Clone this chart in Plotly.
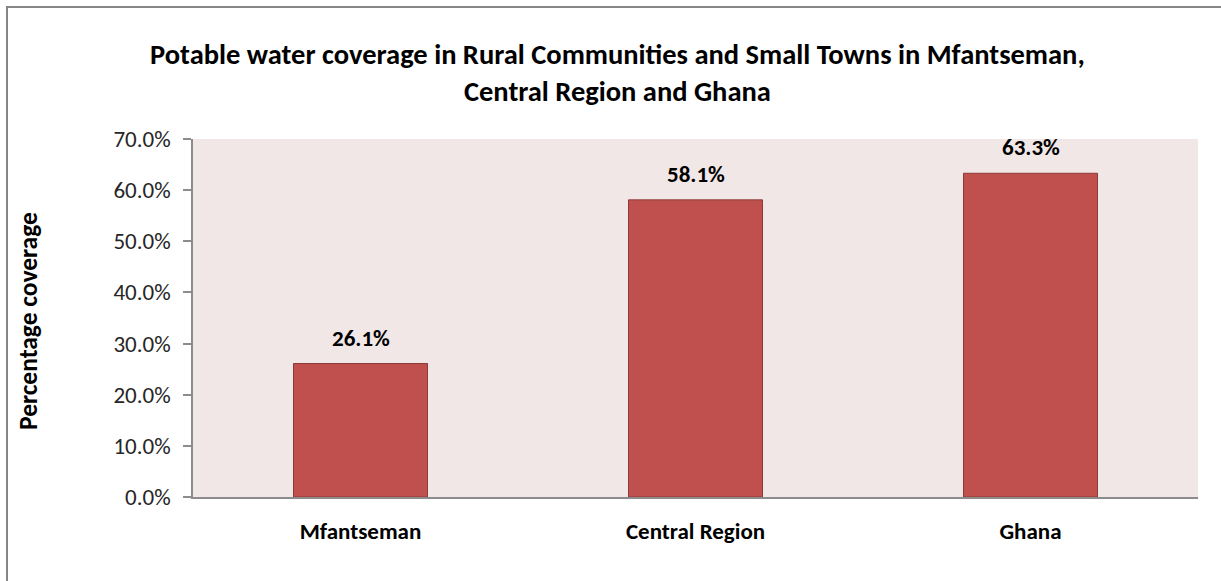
import plotly.graph_objects as go

categories = ["Mfantseman", "Central Region", "Ghana"]
coverage = [0.261, 0.581, 0.633]
tick_values = [0.0, 0.1, 0.2, 0.3, 0.4, 0.5, 0.6, 0.7]
tick_labels = ["0.0%", "10.0%", "20.0%", "30.0%", "40.0%", "50.0%", "60.0%", "70.0%"]
title_text = "Potable water coverage in Rural Communities and Small Towns in Mfantseman,<br>Central Region and Ghana"
y_title = "Percentage coverage"

FONT = "Carlito, Lato, 'Open Sans', sans-serif"
W, H = 1221, 581
L, R, T, B = 193, 23, 139, 84
pw, ph = W - L - R, H - T - B

def px_x(p):
    return (p - L) / pw

def px_y(p):
    return (H - B - p) / ph

fig = go.Figure()
fig.add_trace(go.Bar(
    x=categories, y=coverage, width=0.4,
    marker=dict(color="#C0504D", line=dict(color="#8C3A38", width=1)),
    hoverinfo="skip",
))

for c, v in zip(categories, coverage):
    fig.add_annotation(
        x=c, y=v, xref="x", yref="y", text=f"<b>{v*100:.1f}%</b>",
        showarrow=False, yanchor="bottom", yshift=10,
        font=dict(family=FONT, size=23, color="#000000"),
    )

fig.add_annotation(
    x=px_x(617), y=px_y(73), xref="paper", yref="paper",
    text=f"<b>{title_text}</b>", showarrow=False,
    xanchor="center", yanchor="middle",
    font=dict(family=FONT, size=28.5, color="#000000"),
)

fig.add_annotation(
    x=px_x(28), y=px_y(321), xref="paper", yref="paper",
    text=f"<b>{y_title}</b>", showarrow=False, textangle=-90,
    xanchor="center", yanchor="middle",
    font=dict(family=FONT, size=25.5, color="#000000"),
)

fig.add_shape(
    type="rect", xref="paper", yref="paper",
    x0=px_x(7), y0=px_y(640), x1=px_x(1260), y1=px_y(7),
    line=dict(color="#868686", width=2), fillcolor="rgba(0,0,0,0)", layer="below",
)

fig.update_layout(
    width=W, height=H,
    margin=dict(l=L, r=R, t=T, b=B, autoexpand=False),
    paper_bgcolor="#FFFFFF",
    plot_bgcolor="#F2E7E7",
    showlegend=False,
    bargap=0.6,
    xaxis=dict(
        showgrid=False, showline=True, linecolor="#8C8C8C", linewidth=1.5,
        ticks="", tickfont=dict(family=FONT, size=23, color="#000000"),
        ticklabelstandoff=13,
        tickvals=categories, ticktext=[f"<b>{c}</b>" for c in categories],
    ),
    yaxis=dict(
        range=[0, 0.7], showgrid=False, zeroline=False,
        showline=True, linecolor="#8C8C8C", linewidth=1.5,
        ticks="outside", ticklen=8, tickcolor="#8C8C8C", tickwidth=1.5,
        tickvals=tick_values, ticktext=tick_labels,
        tickfont=dict(family=FONT, size=23, color="#262626"),
        ticklabelstandoff=8,
    ),
)

fig.write_html("out.html", config={"displayModeBar": False},
               post_script="document.body.style.margin='0';")
